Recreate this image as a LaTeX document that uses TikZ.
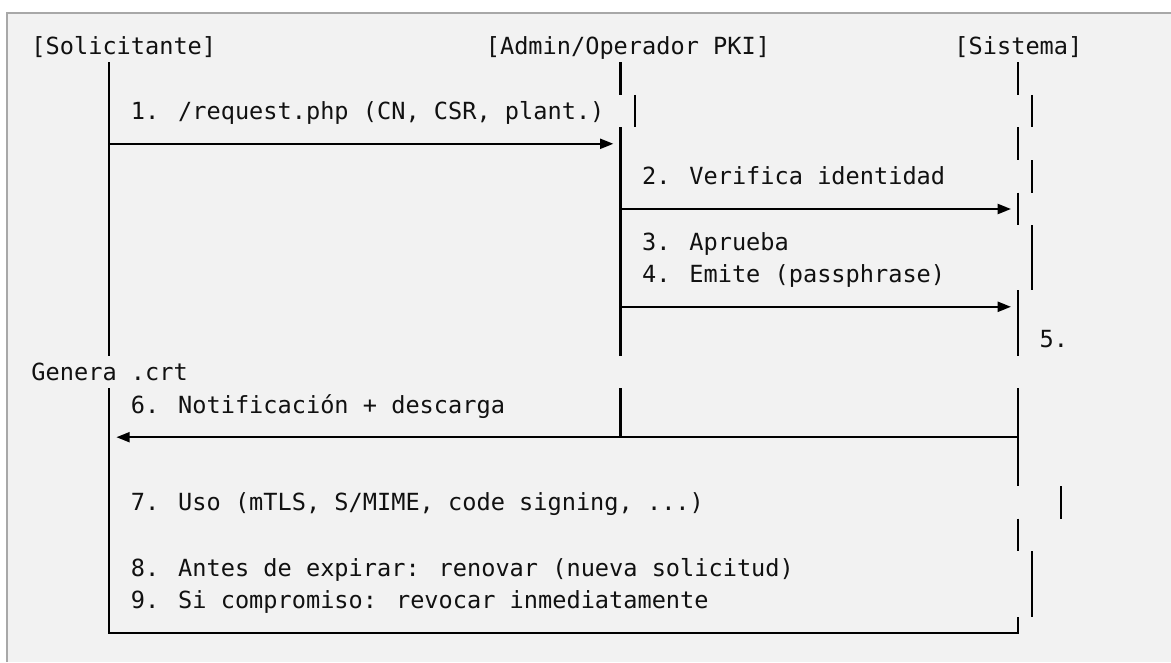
\documentclass[tikz,border=0pt]{standalone}
\usepackage{fontspec}
\newfontfamily\codefont{DejaVu Sans Mono}
\usetikzlibrary{arrows.meta}
\definecolor{codebg}{HTML}{F2F2F2}
\definecolor{codeframe}{HTML}{A8A8A8}
\definecolor{codeink}{HTML}{111111}
\begin{document}
\begin{tikzpicture}[x=10.65pt, y=-24.45pt,
  txt/.style={anchor=base west, inner sep=0pt, text=codeink, font=\codefont\fontsize{17.7pt}{21pt}\selectfont},
  wire/.style={line width=1.6pt, black},
  msg/.style={wire, -{Triangle[length=10pt, width=7.5pt]}}]
\useasboundingbox (-2.197,-1.411) rectangle (80.268,18.896);
\fill[codebg] (-1.669,-1.012) rectangle (80.268,18.896);
\draw[codeframe, line width=1.5pt] (-1.669,18.896) -- (-1.669,-1.012) -- (80.268,-1.012);

% participants
\node[txt] (solic) at (0,0.26) {[Solicitante]};
\node[txt] (admin) at (32,0.26) {[Admin/Operador PKI]};
\node[txt] (sistema) at (65,0.26) {[Sistema]};

% lifeline pieces, one per row
\foreach \c/\r in {5/1, 41/1, 69/1, 5/2, 42/2, 70/2, 5/3, 41/3, 69/3,
    5/4, 41/4, 70/4, 5/5, 41/5, 69/5, 5/6, 41/6, 70/6, 5/7, 41/7, 70/7,
    5/8, 41/8, 69/8, 5/9, 41/9, 69/9, 5/11, 41/11, 69/11, 5/12, 69/12,
    5/13, 69/13, 5/14, 72/14, 5/15, 69/15, 5/16, 70/16, 5/17, 70/17}
  \draw[wire] (\c+0.5,\r-0.5) -- (\c+0.5,\r+0.5);

% steps
\node[txt] (m1) at (7,2.26) {1. /request.php (CN, CSR, plant.)};
\node[txt] (m2) at (43,4.26) {2. Verifica identidad};
\node[txt] (m3) at (43,6.26) {3. Aprueba};
\node[txt] (m4) at (43,7.26) {4. Emite (passphrase)};
\node[txt] (m5) at (71,9.26) {5.};
\node[txt] (gen) at (0,10.26) {Genera .crt};
\node[txt] (m6) at (7,11.26) {6. Notificación + descarga};
\node[txt] (m7) at (7,14.26) {7. Uso (mTLS, S/MIME, code signing, ...)};
\node[txt] (m8) at (7,16.26) {8. Antes de expirar: renovar (nueva solicitud)};
\node[txt] (m9) at (7,17.26) {9. Si compromiso: revocar inmediatamente};

% messages
\coordinate (req-from) at (5.5,3);   \coordinate (req-to) at (41,3);
\coordinate (ver-from) at (41.5,5);  \coordinate (ver-to) at (69,5);
\coordinate (emi-from) at (41.5,8);  \coordinate (emi-to) at (69,8);
\coordinate (not-from) at (69.5,12); \coordinate (not-to) at (6,12);
\draw[msg] (req-from) -- (req-to);
\draw[msg] (ver-from) -- (ver-to);
\draw[msg] (emi-from) -- (emi-to);
\draw[msg] (not-from) -- (not-to);
\draw[wire] (41.5,11.5) -- (41.5,12);

% closing corner
\coordinate (end-l) at (5.5,18); \coordinate (end-r) at (69.5,18);
\draw[wire] (5.5,17.5) -- (end-l) -- (end-r) -- (69.5,17.5);
\end{tikzpicture}
\end{document}
